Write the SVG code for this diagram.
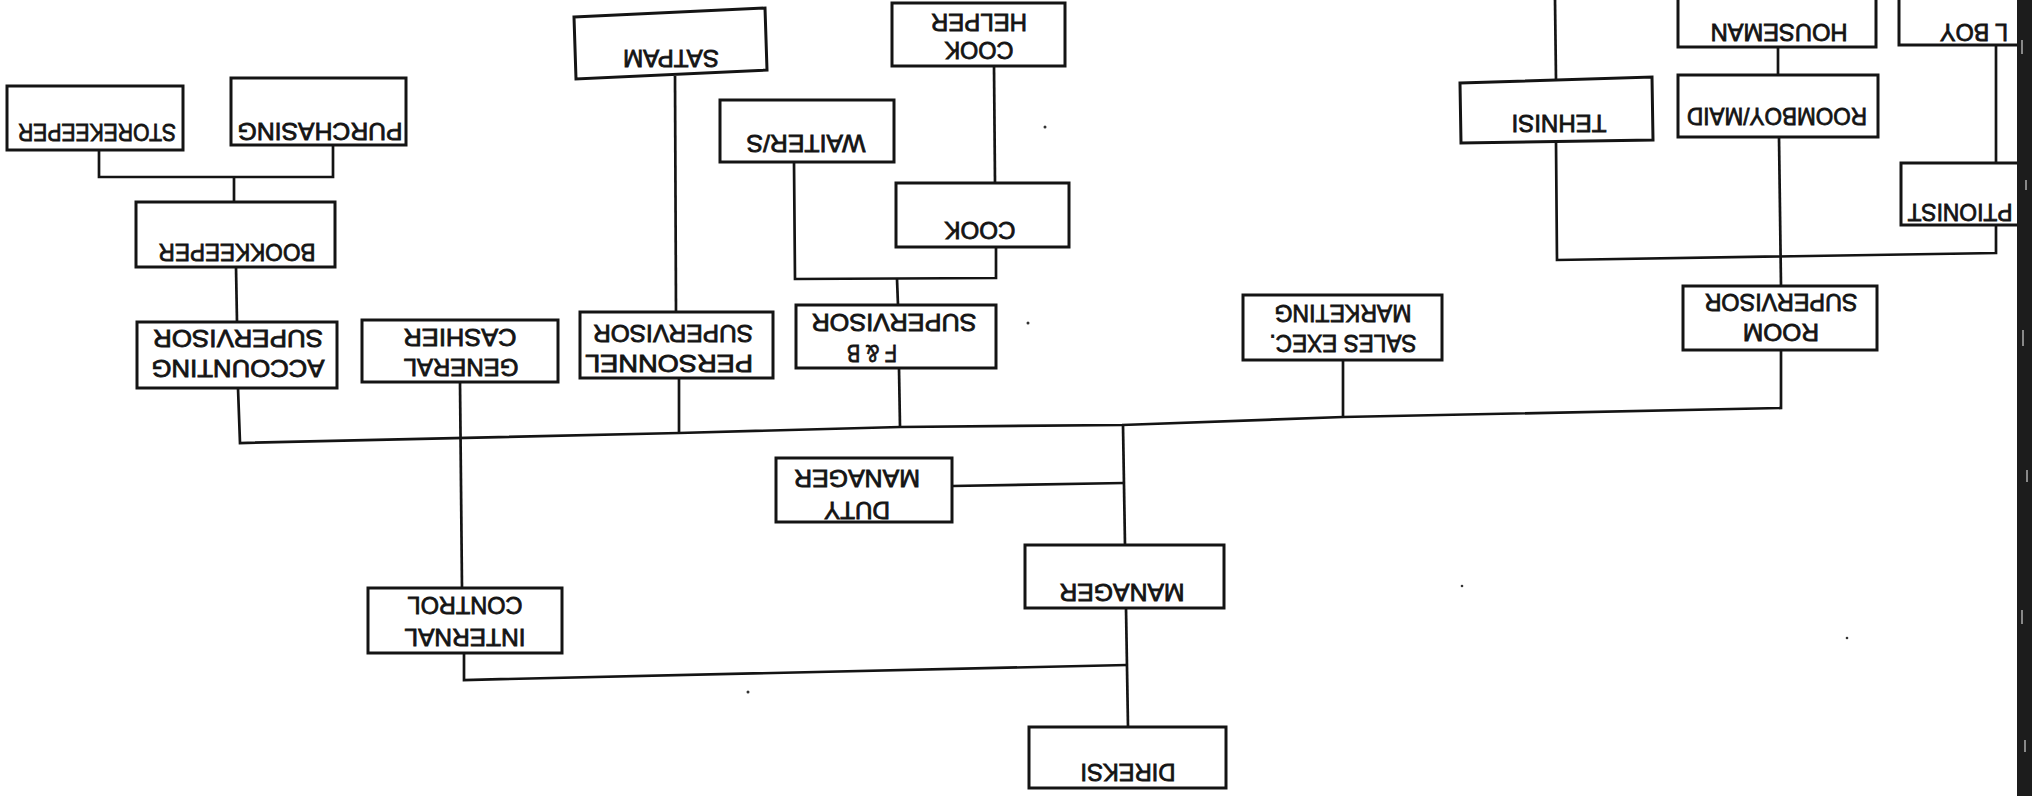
<svg xmlns="http://www.w3.org/2000/svg" width="2032" height="796" viewBox="0 0 2032 796">
<style>
.bx{fill:#fff;stroke:#141414;stroke-width:3}
.ln{fill:none;stroke:#141414;stroke-width:2.7;stroke-linejoin:miter}
.t{font-family:"Liberation Sans",Arial,sans-serif;font-size:24px;fill:#141414;stroke:#141414;stroke-width:0.8;text-anchor:middle;dominant-baseline:central}
.sp{fill:#333}
</style>
<rect width="2032" height="796" fill="#fff"/>
<g id="connectors">
<polyline class="ln" points="99,150 99,177 333,177 333,145"/>
<line class="ln" x1="234" y1="177" x2="234" y2="202"/>
<line class="ln" x1="236" y1="267" x2="237" y2="322"/>
<polyline class="ln" points="238,388 240,443 679,433 900,427 1122,425 1343,417 1781,408 1781,350"/>
<line class="ln" x1="460" y1="382" x2="462" y2="588"/>
<line class="ln" x1="675" y1="76" x2="676" y2="312"/>
<line class="ln" x1="679" y1="378" x2="679" y2="433"/>
<polyline class="ln" points="794,162 795,279 996,278 996,247"/>
<line class="ln" x1="994" y1="66" x2="995" y2="183"/>
<line class="ln" x1="897" y1="279" x2="898" y2="305"/>
<line class="ln" x1="899" y1="368" x2="900" y2="427"/>
<line class="ln" x1="1343" y1="360" x2="1343" y2="417"/>
<line class="ln" x1="1779" y1="137" x2="1781" y2="286"/>
<line class="ln" x1="1778" y1="47" x2="1778" y2="75"/>
<line class="ln" x1="1555" y1="0" x2="1556" y2="80"/>
<polyline class="ln" points="1556,142 1557,260 1996,253 1996,225"/>
<line class="ln" x1="1996" y1="45" x2="1996" y2="163"/>
<line class="ln" x1="1123" y1="425" x2="1125" y2="545"/>
<line class="ln" x1="952" y1="486" x2="1124" y2="483"/>
<line class="ln" x1="1126" y1="608" x2="1128" y2="727"/>
<polyline class="ln" points="464,653 464,680 1127,665"/>
</g>
<g id="storekeeper"><rect class="bx" x="7" y="86" width="176" height="64"/><text class="t" x="97" y="132" textLength="158" lengthAdjust="spacingAndGlyphs" transform="rotate(180 97 132)">STOREKEEPER</text></g>
<g id="purchasing"><rect class="bx" x="231" y="78" width="175" height="67"/><text class="t" x="320" y="131" textLength="165" lengthAdjust="spacingAndGlyphs" transform="rotate(180 320 131)">PURCHASING</text></g>
<g id="bookkeeper"><rect class="bx" x="136" y="202" width="199" height="65"/><text class="t" x="237" y="252" textLength="157" lengthAdjust="spacingAndGlyphs" transform="rotate(180 237 252)">BOOKKEEPER</text></g>
<g id="satpam"><polygon class="bx" points="574,17 765,8 767,70 576,79"/><text class="t" x="671" y="58" textLength="96" lengthAdjust="spacingAndGlyphs" transform="rotate(180 671 58)">SATPAM</text></g>
<g id="cook-helper"><rect class="bx" x="892" y="3" width="173" height="63"/><text class="t" x="979" y="50" textLength="69" lengthAdjust="spacingAndGlyphs" transform="rotate(180 979 50)">COOK</text><text class="t" x="979" y="22" textLength="96" lengthAdjust="spacingAndGlyphs" transform="rotate(180 979 22)">HELPER</text></g>
<g id="waiters"><rect class="bx" x="720" y="100" width="174" height="62"/><text class="t" x="806" y="143" textLength="119" lengthAdjust="spacingAndGlyphs" transform="rotate(180 806 143)">WAITER/S</text></g>
<g id="cook"><rect class="bx" x="896" y="183" width="173" height="64"/><text class="t" x="980" y="230" textLength="71" lengthAdjust="spacingAndGlyphs" transform="rotate(180 980 230)">COOK</text></g>
<g id="tehnisi"><polygon class="bx" points="1460,83 1652,77 1653,140 1461,143"/><text class="t" x="1559" y="123" textLength="95" lengthAdjust="spacingAndGlyphs" transform="rotate(180 1559 123)">TEHNISI</text></g>
<g id="houseman"><rect class="bx" x="1678" y="-2" width="198" height="49"/><text class="t" x="1779" y="32" textLength="137" lengthAdjust="spacingAndGlyphs" transform="rotate(180 1779 32)">HOUSEMAN</text></g>
<g id="roomboy-maid"><rect class="bx" x="1678" y="75" width="200" height="62"/><text class="t" x="1777" y="116" textLength="180" lengthAdjust="spacingAndGlyphs" transform="rotate(180 1777 116)">ROOMBOY/MAID</text></g>
<g id="bell-boy"><rect class="bx" x="1899" y="-2" width="131" height="47"/><text class="t" x="1974" y="32" textLength="68" lengthAdjust="spacingAndGlyphs" transform="rotate(180 1974 32)">L BOY</text></g>
<g id="receptionist"><rect class="bx" x="1901" y="163" width="129" height="62"/><text class="t" x="1960" y="212" textLength="105" lengthAdjust="spacingAndGlyphs" transform="rotate(180 1960 212)">PTIONIST</text></g>
<g id="accounting-supervisor"><rect class="bx" x="137" y="322" width="200" height="66"/><text class="t" x="238" y="368" textLength="173" lengthAdjust="spacingAndGlyphs" transform="rotate(180 238 368)">ACCOUNTING</text><text class="t" x="238" y="338" textLength="170" lengthAdjust="spacingAndGlyphs" transform="rotate(180 238 338)">SUPERVISOR</text></g>
<g id="general-cashier"><rect class="bx" x="362" y="320" width="196" height="62"/><text class="t" x="461" y="367" textLength="115" lengthAdjust="spacingAndGlyphs" transform="rotate(180 461 367)">GENERAL</text><text class="t" x="460" y="337" textLength="113" lengthAdjust="spacingAndGlyphs" transform="rotate(180 460 337)">CASHIER</text></g>
<g id="personnel-supervisor"><rect class="bx" x="580" y="312" width="193" height="66"/><text class="t" x="669" y="363" textLength="168" lengthAdjust="spacingAndGlyphs" transform="rotate(180 669 363)">PERSONNEL</text><text class="t" x="673" y="333" textLength="160" lengthAdjust="spacingAndGlyphs" transform="rotate(180 673 333)">SUPERVISOR</text></g>
<g id="fb-supervisor"><rect class="bx" x="796" y="305" width="200" height="63"/><text class="t" x="872" y="353" textLength="50" lengthAdjust="spacingAndGlyphs" transform="rotate(180 872 353)">F &amp; B</text><text class="t" x="894" y="322" textLength="165" lengthAdjust="spacingAndGlyphs" transform="rotate(180 894 322)">SUPERVISOR</text></g>
<g id="sales-exec"><rect class="bx" x="1243" y="295" width="199" height="65"/><text class="t" x="1343" y="343" textLength="147" lengthAdjust="spacingAndGlyphs" transform="rotate(180 1343 343)">SALES EXEC.</text><text class="t" x="1343" y="313" textLength="137" lengthAdjust="spacingAndGlyphs" transform="rotate(180 1343 313)">MARKETING</text></g>
<g id="room-supervisor"><rect class="bx" x="1683" y="286" width="194" height="64"/><text class="t" x="1781" y="332" textLength="76" lengthAdjust="spacingAndGlyphs" transform="rotate(180 1781 332)">ROOM</text><text class="t" x="1781" y="302" textLength="153" lengthAdjust="spacingAndGlyphs" transform="rotate(180 1781 302)">SUPERVISOR</text></g>
<g id="duty-manager"><rect class="bx" x="776" y="458" width="176" height="64"/><text class="t" x="857" y="510" textLength="66" lengthAdjust="spacingAndGlyphs" transform="rotate(180 857 510)">DUTY</text><text class="t" x="857" y="478" textLength="126" lengthAdjust="spacingAndGlyphs" transform="rotate(180 857 478)">MANAGER</text></g>
<g id="internal-control"><rect class="bx" x="368" y="588" width="194" height="65"/><text class="t" x="465" y="637" textLength="121" lengthAdjust="spacingAndGlyphs" transform="rotate(180 465 637)">INTERNAL</text><text class="t" x="465" y="605" textLength="115" lengthAdjust="spacingAndGlyphs" transform="rotate(180 465 605)">CONTROL</text></g>
<g id="manager"><rect class="bx" x="1025" y="545" width="199" height="63"/><text class="t" x="1122" y="592" textLength="125" lengthAdjust="spacingAndGlyphs" transform="rotate(180 1122 592)">MANAGER</text></g>
<g id="direksi"><rect class="bx" x="1029" y="727" width="197" height="61"/><text class="t" x="1128" y="772" textLength="95" lengthAdjust="spacingAndGlyphs" transform="rotate(180 1128 772)">DIREKSI</text></g>
<g id="border">
<rect x="2017" y="0" width="15" height="796" fill="#1c1c1c"/>
<rect x="2021" y="40" width="2" height="14" fill="#888"/>
<rect x="2025" y="180" width="2" height="10" fill="#888"/>
<rect x="2022" y="330" width="2" height="16" fill="#888"/>
<rect x="2026" y="470" width="2" height="12" fill="#888"/>
<rect x="2021" y="610" width="2" height="14" fill="#888"/>
<rect x="2024" y="740" width="2" height="12" fill="#888"/>
</g>
<g id="specks">
<circle class="sp" cx="1045" cy="127" r="1.5"/>
<circle class="sp" cx="1028" cy="323" r="1.5"/>
<circle class="sp" cx="1462" cy="586" r="1.3"/>
<circle class="sp" cx="1847" cy="638" r="1.3"/>
<circle class="sp" cx="748" cy="692" r="1.5"/>
</g>
</svg>
